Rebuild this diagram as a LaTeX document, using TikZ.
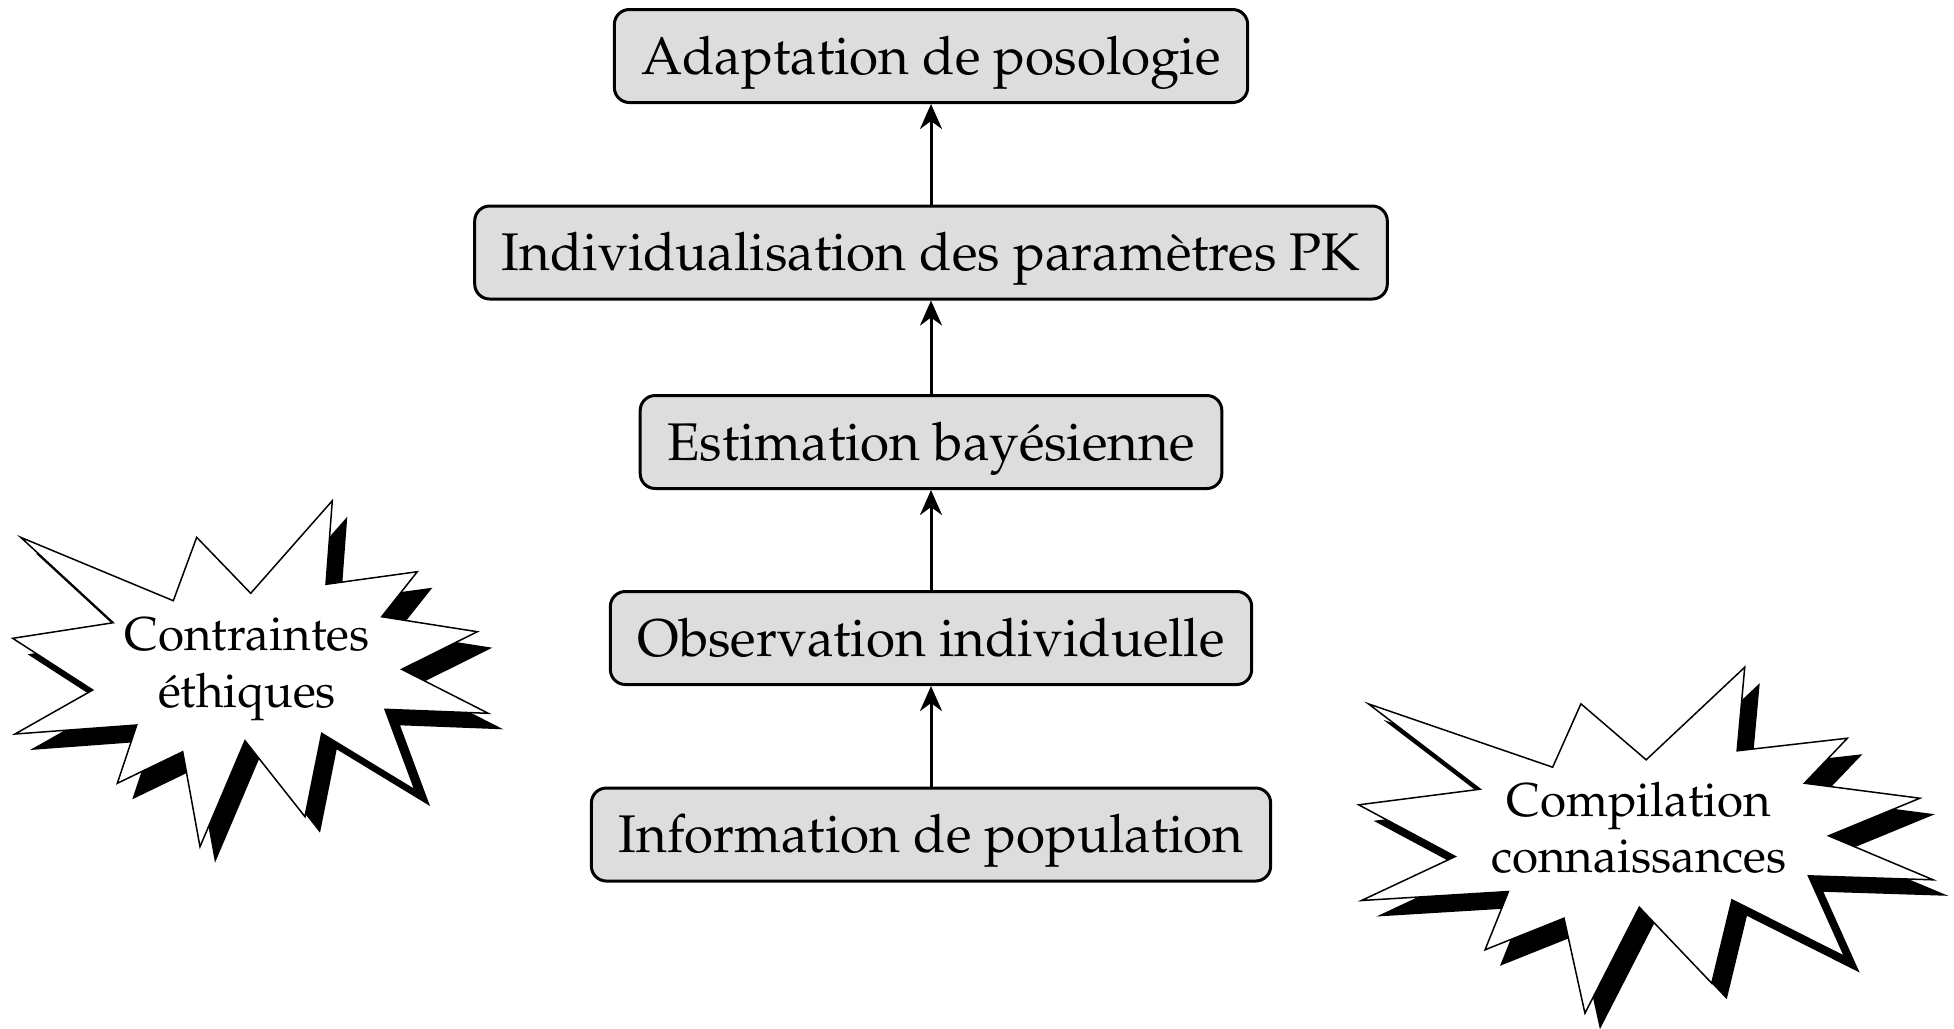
\documentclass[tikz,border=0pt]{standalone}
\usepackage[T1]{fontenc}
\usepackage{mathpazo}
\usepackage{tikz}
\usetikzlibrary{positioning,arrows.meta}
\definecolor{grisboite}{RGB}{221,221,221}

\newcommand{\eclat}{(20.7,537.3) -- (173.3,600.7) -- (196.7,537.3) -- (250.7,593.3) -- (332.3,500.7) -- (326,584.3) -- (417.3,571.7) -- (381.7,616.7) -- (477.3,631.7) -- (401.7,669.3) -- (488.3,713.3) -- (385,709.3) -- (415,790) -- (321.7,733.3) -- (305,816.7) -- (245,740.7) -- (200,846.7) -- (182.7,751.7) -- (117.3,783.3) -- (136.7,725) -- (15,734) -- (92.7,690) -- (12.7,638.3) -- (113.3,622.7) -- cycle}

\begin{document}
\begin{tikzpicture}[x=0.2pt,y=-0.2pt,
		etape/.style={draw,line width=0.6pt,rounded corners=3pt,fill=grisboite,font=\fontsize{10.6}{13}\selectfont,minimum height=18.6pt,inner xsep=5.4pt,text height=9pt,text depth=1.8pt},
		fleche/.style={-{Stealth[length=5pt,width=4.4pt,inset=1.6pt]},line width=0.6pt},
		bulle/.style={align=center,font=\fontsize{9.5}{11.3}\selectfont}]
		\useasboundingbox (0,0) rectangle (1954,1028);
		\node[etape] (info) at (931,834.5) {Information de population};
		\node[etape] (obs) at (931,638) {Observation individuelle};
		\node[etape] (bayes) at (931,442) {Estimation bay\'esienne};
		\node[etape] (pk) at (931,252.5) {Individualisation des param\`etres PK};
		\node[etape] (poso) at (931,56) {Adaptation de posologie};
		\draw[fleche] (info) -- (obs);
		\draw[fleche] (obs) -- (bayes);
		\draw[fleche] (bayes) -- (pk);
		\draw[fleche] (pk) -- (poso);
		\fill[black,shift={(15,16)}] \eclat;
		\filldraw[fill=white,line width=0.3pt] \eclat;
		\node[bulle] (ethique) at (247,669) {Contraintes\\\'ethiques};
		\begin{scope}[shift={(1343.3,166.5)},xscale=1.208]
			\fill[black,shift={(12.4,16)}] \eclat;
			\filldraw[fill=white,line width=0.3pt] \eclat;
		\end{scope}
		\node[bulle] (savoir) at (1639,828) {Compilation\\connaissances};
	\end{tikzpicture}
\end{document}
